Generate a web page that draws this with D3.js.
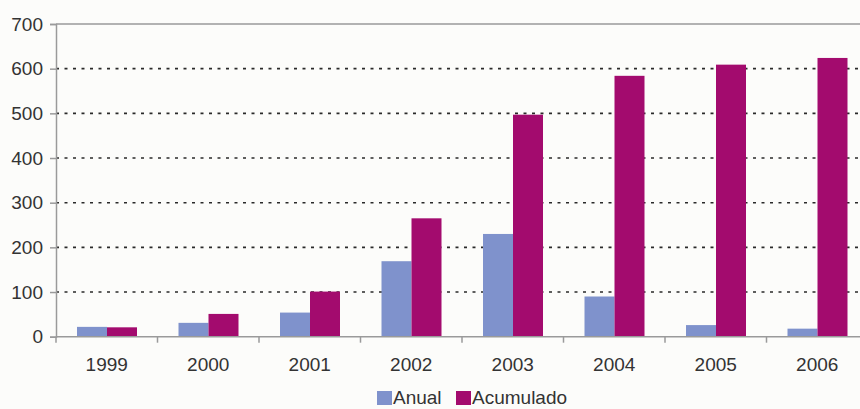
<!DOCTYPE html>
<html>
<head>
<meta charset="utf-8">
<script src="https://cdn.jsdelivr.net/npm/d3@7/dist/d3.min.js"></script>
<style>
  html, body { margin: 0; padding: 0; background: #fcfcfa; }
  svg { display: block; }
  text { font-family: "Liberation Sans", Arial, sans-serif; fill: #333; }
</style>
</head>
<body>
<svg id="chart" width="860" height="409"></svg>
<script>
// Yearly and cumulative counts, 1999–2006
const years = ["1999", "2000", "2001", "2002", "2003", "2004", "2005", "2006"];
const anual = [22, 31, 54, 169, 230, 90, 26, 18];
const acumulado = [21, 51, 101, 265, 497, 584, 609, 624];
const seriesNames = ["Anual", "Acumulado"];
const seriesColors = ["#7f92cc", "#a30b6e"];
const yTicks = [0, 100, 200, 300, 400, 500, 600, 700];

const svg = d3.select("#chart");
const plotLeft = 56, plotRight = 868, plotTop = 24, plotBottom = 336.7;

const x = d3.scaleBand().domain(years).range([plotLeft, plotRight]).paddingInner(0).paddingOuter(0);
const xs = d3.scaleBand().domain(seriesNames).range([21, 81]).padding(0);
const y = d3.scaleLinear().domain([0, 700]).range([plotBottom, plotTop]);
const color = d3.scaleOrdinal().domain(seriesNames).range(seriesColors);

// dotted horizontal gridlines
svg.append("g")
  .selectAll("line")
  .data(yTicks.filter(v => v > 0 && v < 700))
  .join("line")
  .attr("x1", plotLeft).attr("x2", plotRight)
  .attr("y1", d => y(d)).attr("y2", d => y(d))
  .attr("stroke", "#2a2a2a")
  .attr("stroke-width", 1.6)
  .attr("stroke-dasharray", "3,5.5");

// solid top border at 700
svg.append("line")
  .attr("x1", plotLeft).attr("x2", plotRight)
  .attr("y1", y(700)).attr("y2", y(700))
  .attr("stroke", "#9a9a9a").attr("stroke-width", 1.5);

// bars
const rows = years.map((yr, i) => ({ year: yr, values: [
  { key: "Anual", value: anual[i] },
  { key: "Acumulado", value: acumulado[i] }
]}));

svg.append("g")
  .selectAll("g")
  .data(rows)
  .join("g")
  .attr("transform", d => `translate(${x(d.year)},0)`)
  .selectAll("rect")
  .data(d => d.values)
  .join("rect")
  .attr("x", d => xs(d.key))
  .attr("width", xs.bandwidth())
  .attr("y", d => y(d.value))
  .attr("height", d => y(0) - y(d.value))
  .attr("fill", d => color(d.key));

// y axis
const yAxis = svg.append("g")
  .attr("transform", `translate(${plotLeft},0)`)
  .call(d3.axisLeft(y).tickValues(yTicks).tickSize(6).tickPadding(7));
yAxis.select(".domain").attr("stroke", "#9a9a9a").attr("stroke-width", 1.5);
yAxis.selectAll(".tick line").attr("stroke", "#9a9a9a").attr("stroke-width", 1.5);
yAxis.selectAll(".tick text").style("font-size", "19px").attr("fill", "#333")
  .attr("font-family", "Liberation Sans, Arial, sans-serif");

// x axis with ticks at category boundaries
const xAxis = svg.append("g")
  .attr("transform", `translate(0,${plotBottom})`);
xAxis.append("line")
  .attr("x1", plotLeft).attr("x2", plotRight)
  .attr("stroke", "#9a9a9a").attr("stroke-width", 1.5);
xAxis.selectAll("line.tk")
  .data(years)
  .join("line")
  .attr("class", "tk")
  .attr("x1", d => x(d)).attr("x2", d => x(d))
  .attr("y1", 0).attr("y2", 6)
  .attr("stroke", "#9a9a9a").attr("stroke-width", 1.5);
xAxis.selectAll("text")
  .data(years)
  .join("text")
  .attr("x", d => x(d) + x.bandwidth() / 2)
  .attr("y", 34)
  .attr("text-anchor", "middle")
  .style("font-size", "19px")
  .text(d => d);

// legend
const legend = svg.append("g").attr("transform", "translate(377,391)");
const lg = [{ key: "Anual", dx: 0 }, { key: "Acumulado", dx: 79 }];
const item = legend.selectAll("g").data(lg).join("g")
  .attr("transform", d => `translate(${d.dx},0)`);
item.append("rect")
  .attr("x", 0).attr("y", 0).attr("width", 15).attr("height", 14)
  .attr("fill", d => color(d.key));
item.append("text")
  .attr("x", 16).attr("y", 13)
  .style("font-size", "19px")
  .text(d => d.key);
</script>
</body>
</html>
